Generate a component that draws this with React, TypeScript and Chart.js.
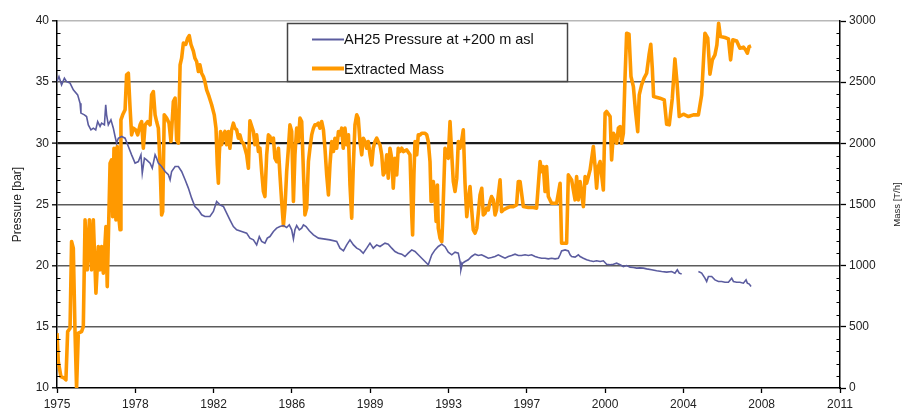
import React, { useEffect, useRef } from 'react';
import { Chart, registerables } from 'chart.js';

Chart.register(...registerables);

const FONT = '"Liberation Sans", Arial, sans-serif';

const xTickLabels = ['1975', '1978', '1982', '1986', '1989', '1993', '1997', '2000', '2004', '2008', '2011'];

const pressureYears = [
  1975.00, 1975.09, 1975.21, 1975.34, 1975.44, 1975.60, 1975.75, 1975.95, 1976.06, 1976.10,
  1976.26, 1976.36, 1976.44, 1976.56, 1976.67, 1976.78, 1976.87, 1976.98, 1977.05, 1977.18,
  1977.24, 1977.28, 1977.36, 1977.48, 1977.59, 1977.67, 1977.74, 1977.82, 1977.97, 1978.13,
  1978.28, 1978.43, 1978.59, 1978.74, 1978.86, 1978.92, 1979.02, 1979.12, 1979.28, 1979.38,
  1979.51, 1979.58, 1979.66, 1979.81, 1979.97, 1980.12, 1980.20, 1980.27, 1980.43, 1980.58,
  1980.73, 1980.89, 1981.04, 1981.19, 1981.34, 1981.50, 1981.65, 1981.80, 1982.03, 1982.19,
  1982.34, 1982.49, 1982.65, 1982.80, 1982.95, 1983.11, 1983.26, 1983.49, 1983.72,
  1983.87, 1984.03, 1984.18, 1984.30, 1984.41, 1984.56, 1984.67, 1984.79, 1984.95, 1985.10,
  1985.25, 1985.41, 1985.56, 1985.68, 1985.79, 1985.87, 1985.94, 1986.02, 1986.14, 1986.25,
  1986.33, 1986.45, 1986.60, 1986.79, 1987.02, 1987.25, 1987.55, 1987.86, 1988.01, 1988.17,
  1988.32, 1988.47, 1988.63, 1988.78, 1988.93, 1989.08, 1989.24, 1989.39, 1989.54, 1989.70,
  1989.85, 1990.08, 1990.23, 1990.39, 1990.54, 1990.69, 1990.85, 1991.00, 1991.15, 1991.31,
  1991.46, 1991.61, 1991.77, 1991.92, 1992.07, 1992.23, 1992.38, 1992.53, 1992.69, 1992.84,
  1992.99, 1993.15, 1993.30, 1993.45, 1993.53, 1993.57, 1993.64, 1993.76, 1993.91, 1994.06,
  1994.22, 1994.37, 1994.52, 1994.68, 1994.83, 1994.98, 1995.14, 1995.29, 1995.44, 1995.60,
  1995.75, 1995.90, 1996.06, 1996.21, 1996.36, 1996.52, 1996.67, 1996.82, 1996.98, 1997.13,
  1997.28, 1997.44, 1997.59, 1997.74, 1997.90, 1998.05, 1998.13, 1998.20, 1998.36, 1998.51,
  1998.59, 1998.66, 1998.82, 1998.97, 1999.05, 1999.20, 1999.35, 1999.51, 1999.66, 1999.81,
  1999.97, 2000.12, 2000.27, 2000.43, 2000.58, 2000.73, 2000.89, 2001.04, 2001.19, 2001.35,
  2001.50, 2001.65, 2001.80, 2001.96, 2002.11, 2002.34, 2002.57, 2002.80, 2003.03, 2003.26,
  2003.41, 2003.52, 2003.61, 2003.72, 2004.10, 2004.49, 2004.64, 2004.79, 2004.87, 2004.95,
  2005.10, 2005.25, 2005.41, 2005.56, 2005.71, 2005.87, 2006.02, 2006.10, 2006.25, 2006.40,
  2006.56, 2006.68, 2006.74, 2006.83, 2006.91,
];

const pressureValues: (number | null)[] = [
  35.05, 35.46, 34.78, 35.33, 35.05, 34.92, 34.37, 33.96, 33.28, 32.47,
  32.33, 32.19, 31.51, 31.10, 31.24, 31.10, 31.78, 31.38, 31.65, 31.51,
  33.15, 32.33, 31.51, 31.92, 31.24, 30.56, 30.01, 30.42, 30.56, 30.42,
  29.74, 29.06, 28.38, 28.51, 29.06, 27.56, 28.79, 28.65, 28.38, 27.97,
  29.06, 28.79, 28.38, 28.11, 27.70, 27.43, 27.02, 27.70, 28.11, 28.11,
  27.70, 27.02, 26.34, 25.52, 24.84, 24.56, 24.16, 24.02, 24.02, 24.43,
  25.25, 24.97, 24.84, 24.29, 23.75, 23.20, 22.93, 22.79, 22.66,
  22.25, 22.11, 21.70, 22.38, 21.98, 21.84, 22.25, 22.38, 22.79, 23.07,
  23.20, 23.28, 23.12, 23.34, 22.93, 22.19, 22.93, 23.28, 22.93, 23.07,
  23.34, 23.20, 22.85, 22.52, 22.25, 22.19, 22.11, 21.98, 21.43, 21.21,
  21.70, 22.11, 21.70, 21.43, 21.29, 21.02, 21.43, 21.84, 21.43, 21.70,
  21.57, 21.84, 21.76, 21.43, 21.16, 21.02, 20.94, 20.75, 21.02, 21.29,
  21.16, 20.89, 20.61, 20.34, 20.07, 20.89, 21.29, 21.57, 21.76, 21.55,
  21.10, 20.89, 21.10, 21.02, 20.34, 19.66, 20.20, 20.34, 20.48, 20.75,
  20.94, 20.83, 20.89, 20.75, 20.61, 20.67, 20.75, 20.89, 20.75, 20.61,
  20.75, 20.83, 20.94, 20.83, 20.83, 20.89, 20.83, 20.89, 20.75, 20.67,
  20.61, 20.61, 20.56, 20.61, 20.56, 20.61, 20.89, 21.21, 21.29, 21.21,
  20.89, 20.75, 20.70, 20.89, 20.75, 20.61, 20.48, 20.40, 20.34, 20.40,
  20.34, 20.40, 20.12, 20.07, 20.12, 20.20, 20.07, 19.93, 20.01, 19.88,
  19.85, 19.80, 19.82, 19.80, 19.74, 19.66, 19.58, 19.52, 19.47, 19.52,
  19.39, 19.66, 19.39, 19.31, null, 19.52, 19.39, 18.98, 18.71, 19.11,
  19.11, 18.84, 18.71, 18.71, 18.65, 18.65, 18.98, 18.71, 18.65, 18.65,
  18.57, 18.84, 18.57, 18.49, 18.30,
];

const massYears = [
  1975.00, 1975.06, 1975.18, 1975.34, 1975.41, 1975.49, 1975.60, 1975.67, 1975.75, 1975.83,
  1975.90, 1975.98, 1976.13, 1976.21, 1976.29, 1976.39, 1976.49, 1976.59, 1976.67, 1976.79,
  1976.90, 1976.98, 1977.05, 1977.13, 1977.25, 1977.31, 1977.44, 1977.51, 1977.56, 1977.62,
  1977.71, 1977.77, 1977.82, 1977.90, 1977.94, 1978.02, 1978.13, 1978.20, 1978.28, 1978.36,
  1978.43, 1978.51, 1978.62, 1978.71, 1978.82, 1978.89, 1978.97, 1979.05, 1979.17, 1979.28,
  1979.35, 1979.43, 1979.51, 1979.58, 1979.66, 1979.74, 1979.81, 1979.86, 1979.93, 1980.04,
  1980.15, 1980.24, 1980.35, 1980.43, 1980.50, 1980.58, 1980.66, 1980.73, 1980.81, 1980.92,
  1981.01, 1981.08, 1981.16, 1981.27, 1981.34, 1981.42, 1981.50, 1981.57, 1981.65, 1981.73,
  1981.80, 1981.88, 1981.99, 1982.11, 1982.23, 1982.31, 1982.37, 1982.42, 1982.46, 1982.52,
  1982.57, 1982.65, 1982.72, 1982.80, 1982.88, 1982.95, 1983.03, 1983.11, 1983.18, 1983.26,
  1983.34, 1983.41, 1983.49, 1983.57, 1983.64, 1983.72, 1983.80, 1983.87, 1984.03, 1984.10,
  1984.18, 1984.26, 1984.33, 1984.41, 1984.49, 1984.56, 1984.64, 1984.72, 1984.79, 1984.87,
  1984.95, 1985.02, 1985.10, 1985.18, 1985.25, 1985.33, 1985.41, 1985.48, 1985.56, 1985.64,
  1985.71, 1985.79, 1985.87, 1985.94, 1986.02, 1986.10, 1986.17, 1986.25, 1986.33, 1986.40,
  1986.48, 1986.56, 1986.63, 1986.71, 1986.79, 1986.86, 1986.94, 1987.02, 1987.09, 1987.17,
  1987.25, 1987.32, 1987.40, 1987.48, 1987.55, 1987.63, 1987.71, 1987.78, 1987.86, 1987.94,
  1988.01, 1988.09, 1988.16, 1988.24, 1988.32, 1988.40, 1988.47, 1988.55, 1988.62, 1988.70,
  1988.78, 1988.85, 1988.93, 1989.01, 1989.08, 1989.16, 1989.24, 1989.31, 1989.39, 1989.47,
  1989.54, 1989.62, 1989.70, 1989.77, 1989.85, 1989.93, 1990.00, 1990.08, 1990.16, 1990.23,
  1990.31, 1990.39, 1990.46, 1990.54, 1990.62, 1990.69, 1990.77, 1990.85, 1990.92, 1991.08,
  1991.23, 1991.31, 1991.35, 1991.41, 1991.46, 1991.54, 1991.61, 1991.69, 1991.77, 1991.84,
  1991.92, 1992.00, 1992.07, 1992.15, 1992.20, 1992.23, 1992.30, 1992.38, 1992.43, 1992.49,
  1992.53, 1992.61, 1992.69, 1992.73, 1992.79, 1992.84, 1992.92, 1992.99, 1993.07, 1993.15,
  1993.22, 1993.30, 1993.38, 1993.45, 1993.53, 1993.61, 1993.68, 1993.76, 1993.84, 1993.91,
  1993.99, 1994.06, 1994.14, 1994.22, 1994.30, 1994.37, 1994.45, 1994.53, 1994.60, 1994.68,
  1994.75, 1994.83, 1994.91, 1994.98, 1995.06, 1995.14, 1995.21, 1995.29, 1995.37, 1995.44,
  1995.52, 1995.67, 1995.83, 1995.98, 1996.13, 1996.21, 1996.29, 1996.44, 1996.67, 1996.90,
  1997.05, 1997.21, 1997.28, 1997.36, 1997.44, 1997.51, 1997.59, 1997.74, 1997.97, 1998.13,
  1998.20, 1998.43, 1998.51, 1998.66, 1998.82, 1998.89, 1998.97, 1999.05, 1999.12, 1999.20,
  1999.28, 1999.35, 1999.51, 1999.66, 1999.74, 1999.81, 1999.89, 1999.97, 2000.12, 2000.20,
  2000.27, 2000.43, 2000.50, 2000.58, 2000.66, 2000.73, 2000.81, 2000.89, 2000.96, 2001.04,
  2001.11, 2001.19, 2001.30, 2001.39, 2001.50, 2001.60, 2001.70, 2001.77, 2001.88, 2001.99,
  2002.11, 2002.22, 2002.30, 2002.37, 2002.43, 2002.72, 2002.92, 2003.03, 2003.15, 2003.29,
  2003.41, 2003.51, 2003.61, 2003.80, 2004.03, 2004.26, 2004.49, 2004.64, 2004.79, 2004.92,
  2005.02, 2005.13, 2005.25, 2005.34, 2005.42, 2005.50, 2005.71, 2005.87, 2005.97, 2006.07,
  2006.25, 2006.40, 2006.56, 2006.66, 2006.74, 2006.82, 2006.91,
];

const massValues = [
  448, 216, 93, 80, 66, 461, 489, 1197, 1143, 448,
  0, 448, 461, 502, 1374, 966, 1374, 966, 1374, 775,
  1156, 966, 1156, 938, 1320, 829, 1838, 1865, 1401, 1960,
  1374, 1974, 1429, 1293, 2192, 2233, 2274, 2560, 2573, 2287,
  2069, 2124, 2110, 2069, 2151, 2178, 1960, 2151, 2178, 2151,
  2396, 2423, 2233, 2178, 2124, 1824, 1415, 1443, 2233, 2206,
  2165, 2015, 2342, 2369, 2028, 2001, 2642, 2696, 2819, 2808,
  2860, 2881, 2808, 2753, 2696, 2669, 2587, 2642, 2573, 2546,
  2505, 2437, 2383, 2315, 2233, 2124, 1824, 1674, 1906, 2097,
  1988, 2069, 2097, 1988, 2097, 1960, 2110, 2165, 2124, 2110,
  2042, 2069, 2015, 2001, 1960, 1906, 1797, 2185, 2097, 1988,
  2069, 1933, 1960, 1769, 1606, 1565, 1906, 2069, 2056, 2015,
  2042, 1878, 1851, 1960, 1742, 1524, 1328, 1470, 1769, 1960,
  2151, 2097, 1524, 1906, 2124, 2015, 2206, 2178, 1769, 1415,
  1470, 1851, 1960, 2069, 2124, 2151, 2151, 2165, 2124, 2178,
  2110, 1960, 1742, 1579, 1824, 2015, 1933, 2042, 1960, 2097,
  2069, 2124, 1960, 2124, 1988, 2069, 1660, 1388, 1797, 2151,
  2233, 2206, 2015, 1906, 2042, 2015, 1960, 2015, 1906, 1824,
  1960, 2015, 2042, 2015, 1988, 1906, 1742, 1769, 1906, 1715,
  1960, 1878, 1633, 1878, 1742, 1960, 1933, 1960, 1933, 1946,
  1906, 1415, 1252, 1742, 2015, 1906, 2069, 2069, 2083, 2083,
  2083, 2069, 2015, 1851, 1524, 1633, 1688, 1551, 1361, 1660,
  1306, 1224, 1197, 1361, 1688, 1960, 1906, 1878, 2178, 1906,
  1688, 1606, 1715, 2015, 1960, 2028, 2110, 1674, 1401, 1524,
  1647, 1470, 1292, 1265, 1306, 1429, 1579, 1633, 1415, 1429,
  1470, 1456, 1524, 1565, 1538, 1415, 1456, 1579, 1701, 1442,
  1456, 1470, 1483, 1483, 1497, 1688, 1688, 1483, 1475, 1475,
  1470, 1851, 1769, 1810, 1606, 1810, 1565, 1510, 1510, 1674,
  1183, 1183, 1742, 1701, 1538, 1728, 1538, 1688, 1592, 1483,
  1728, 1674, 1783, 1974, 1810, 1633, 1810, 1851, 1619, 2246,
  2260, 2219, 1865, 2083, 2056, 2001, 2124, 2137, 2001, 2083,
  2505, 2900, 2892, 2546, 2464, 2260, 2096, 2396, 2478, 2532,
  2573, 2723, 2810, 2614, 2382, 2369, 2355, 2156, 2151, 2369,
  2690, 2491, 2219, 2238, 2219, 2233, 2233, 2396, 2900, 2859,
  2565, 2682, 2723, 2805, 2982, 2873, 2865, 2854, 2682, 2846,
  2837, 2778, 2786, 2764, 2737, 2791, 2797,
];

const PRESSURE_COLOR = '#5b5c9f';
const MASS_COLOR = '#ff9900';

const decorPlugin = {
  id: 'decor',
  afterDraw(chart: any) {
    const { ctx, chartArea, scales } = chart;
    const y = scales.y;
    const y1 = scales.y1;
    ctx.save();
    // minor ticks
    ctx.strokeStyle = '#000';
    ctx.lineWidth = 1.2;
    ctx.beginPath();
    for (let v = 11; v < 40; v++) {
      if (v % 5 === 0) continue;
      const py = Math.round(y.getPixelForValue(v)) + 0.5;
      ctx.moveTo(chartArea.left, py);
      ctx.lineTo(chartArea.left + 3.5, py);
    }
    for (let v = 100; v < 3000; v += 100) {
      if (v % 500 === 0) continue;
      const py = Math.round(y1.getPixelForValue(v)) + 0.5;
      ctx.moveTo(chartArea.right - 3.5, py);
      ctx.lineTo(chartArea.right, py);
    }
    ctx.stroke();

    // axis titles
    const midY = (chartArea.top + chartArea.bottom) / 2;
    ctx.fillStyle = '#222';
    ctx.textAlign = 'center';
    ctx.textBaseline = 'middle';
    ctx.font = `12px ${FONT}`;
    ctx.save();
    ctx.translate(18, midY);
    ctx.rotate(-Math.PI / 2);
    ctx.fillText('Pressure [bar]', 0, 0);
    ctx.restore();
    ctx.font = `9.5px ${FONT}`;
    ctx.save();
    ctx.translate(897, midY);
    ctx.rotate(-Math.PI / 2);
    ctx.fillText('Mass [T/h]', 0, 0);
    ctx.restore();

    // legend box
    const bx = 287.5, by = 23.5, bw = 280, bh = 58;
    ctx.fillStyle = '#ffffff';
    ctx.fillRect(bx, by, bw, bh);
    ctx.strokeStyle = '#444';
    ctx.lineWidth = 1.5;
    ctx.strokeRect(bx, by, bw, bh);

    ctx.lineCap = 'butt';
    ctx.strokeStyle = PRESSURE_COLOR;
    ctx.lineWidth = 2;
    ctx.beginPath();
    ctx.moveTo(312, 39.5);
    ctx.lineTo(344, 39.5);
    ctx.stroke();
    ctx.strokeStyle = MASS_COLOR;
    ctx.lineWidth = 4;
    ctx.beginPath();
    ctx.moveTo(312, 68.5);
    ctx.lineTo(344, 68.5);
    ctx.stroke();

    ctx.fillStyle = '#111';
    ctx.textAlign = 'left';
    ctx.textBaseline = 'middle';
    ctx.font = `14.5px ${FONT}`;
    ctx.fillText('AH25 Pressure at +200 m asl', 344, 40);
    ctx.fillText('Extracted Mass', 344, 69.5);
    ctx.restore();
  },
};

export default function App() {
  const canvasRef = useRef<HTMLCanvasElement | null>(null);

  useEffect(() => {
    const canvas = canvasRef.current;
    if (!canvas) return;
    const pressureData = pressureYears.map((x, i) => ({ x, y: pressureValues[i] }));
    const massData = massYears.map((x, i) => ({ x, y: massValues[i] }));

    const chart = new Chart(canvas, {
      type: 'line',
      data: {
        datasets: [
          {
            label: 'AH25 Pressure at +200 m asl',
            data: pressureData as any,
            borderColor: PRESSURE_COLOR,
            borderWidth: 1.6,
            pointRadius: 0,
            tension: 0,
            spanGaps: false,
            yAxisID: 'y',
            xAxisID: 'x',
          },
          {
            label: 'Extracted Mass',
            data: massData as any,
            borderColor: MASS_COLOR,
            borderWidth: 3.6,
            pointRadius: 0,
            tension: 0,
            borderJoinStyle: 'round',
            yAxisID: 'y1',
            xAxisID: 'x',
          },
        ],
      },
      options: {
        responsive: false,
        animation: false,
        devicePixelRatio: 1,
        layout: { padding: { top: 21, left: 0, right: 0, bottom: 0 } },
        plugins: {
          legend: { display: false },
          tooltip: { enabled: false },
        },
        scales: {
          x: {
            type: 'linear',
            position: 'bottom',
            min: 1975,
            max: 2011,
            afterBuildTicks: (s: any) => {
              s.ticks = xTickLabels.map((_, i) => ({ value: 1975 + i * 3.6 }));
            },
            afterFit: (s: any) => {
              s.height = 26;
            },
            ticks: {
              autoSkip: false,
              maxRotation: 0,
              minRotation: 0,
              padding: 4,
              color: '#222',
              font: { family: FONT, size: 12 },
              callback: (_v: any, i: number) => xTickLabels[i],
            },
            grid: { drawOnChartArea: false, drawTicks: true, tickLength: 5, tickColor: '#000', tickWidth: 1.3 },
            border: { display: true, color: '#000', width: 1.5 },
          },
          y: {
            type: 'linear',
            position: 'left',
            min: 10,
            max: 40,
            ticks: {
              stepSize: 5,
              padding: 3,
              color: '#222',
              font: { family: FONT, size: 12 },
              callback: (v: any) => String(v),
            },
            afterFit: (s: any) => {
              s.width = 57;
            },
            grid: {
              color: (c: any) => {
                const v = c.tick && c.tick.value;
                if (v === 30) return '#1c1c1c';
                if (v === 40) return '#b8b8b8';
                if (v === 10) return 'rgba(0,0,0,0)';
                return '#5c5c5c';
              },
              lineWidth: (c: any) => (c.tick && c.tick.value === 30 ? 2.2 : 1.6),
              tickColor: '#000',
              tickLength: 5,
              tickWidth: 1.3,
            },
            border: { display: true, color: '#000', width: 1.5 },
          },
          y1: {
            type: 'linear',
            position: 'right',
            min: 0,
            max: 3000,
            ticks: {
              stepSize: 500,
              padding: 3,
              color: '#222',
              font: { family: FONT, size: 12 },
              callback: (v: any) => String(v),
            },
            afterFit: (s: any) => {
              s.width = 69;
            },
            grid: { drawOnChartArea: false, tickColor: '#000', tickLength: 6, tickWidth: 1.3 },
            border: { display: true, color: '#000', width: 1.5 },
          },
        },
      },
      plugins: [decorPlugin],
    });

    return () => {
      chart.destroy();
    };
  }, []);

  return (
    <div style={{ position: 'absolute', left: 0, top: 0, width: 909, height: 414, background: '#ffffff' }}>
      <canvas ref={canvasRef} width={909} height={414} style={{ display: 'block', width: 909, height: 414 }} />
    </div>
  );
}
